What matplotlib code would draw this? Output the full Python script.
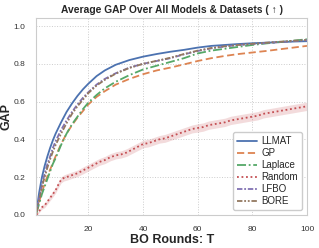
import numpy as np
import matplotlib
matplotlib.use("Agg")
import matplotlib.pyplot as plt
import seaborn as sns

rounds = [1, 2, 3, 4, 5, 6, 7, 8, 10, 12, 14, 16, 18, 20, 23, 26, 30, 35, 40,
          45, 50, 55, 60, 65, 70, 75, 80, 85, 90, 95, 100]

llmat = [0.02, 0.12, 0.20, 0.26, 0.31, 0.355, 0.395, 0.43, 0.49, 0.545, 0.59,
         0.63, 0.665, 0.695, 0.735, 0.765, 0.795, 0.82, 0.838, 0.852, 0.864,
         0.874, 0.886, 0.895, 0.90, 0.905, 0.909, 0.912, 0.915, 0.918, 0.92]
gp = [0.01, 0.07, 0.12, 0.165, 0.205, 0.24, 0.275, 0.31, 0.375, 0.43, 0.475,
      0.515, 0.55, 0.585, 0.625, 0.655, 0.69, 0.72, 0.745, 0.765, 0.78, 0.797,
      0.815, 0.83, 0.842, 0.852, 0.86, 0.868, 0.877, 0.886, 0.895]
laplace = [0.01, 0.06, 0.11, 0.15, 0.19, 0.23, 0.27, 0.30, 0.37, 0.43, 0.48,
           0.52, 0.56, 0.595, 0.635, 0.67, 0.705, 0.74, 0.77, 0.79, 0.81, 0.83,
           0.855, 0.87, 0.88, 0.89, 0.90, 0.908, 0.915, 0.923, 0.93]
lfbo = [0.02, 0.09, 0.16, 0.22, 0.27, 0.31, 0.355, 0.39, 0.45, 0.50, 0.545,
        0.585, 0.62, 0.65, 0.69, 0.72, 0.75, 0.78, 0.80, 0.815, 0.83, 0.85,
        0.868, 0.882, 0.892, 0.90, 0.905, 0.91, 0.915, 0.92, 0.925]
bore = [0.015, 0.08, 0.15, 0.20, 0.25, 0.295, 0.335, 0.37, 0.43, 0.485, 0.535,
        0.575, 0.61, 0.645, 0.685, 0.715, 0.748, 0.778, 0.80, 0.816, 0.832,
        0.852, 0.87, 0.884, 0.893, 0.90, 0.906, 0.912, 0.917, 0.922, 0.927]

# random search is noisier, read on a finer grid
rounds_random = [1, 2, 3, 4, 5, 6, 7, 8, 9, 10, 11, 12, 14, 16, 18, 20, 22, 24,
                 26, 28, 30, 32, 34, 36, 38, 40, 42, 44, 46, 48, 50, 52, 54, 56,
                 58, 60, 62, 64, 66, 68, 70, 72, 74, 76, 78, 80, 82, 84, 86, 88,
                 90, 92, 94, 96, 98, 100]
random_mean = [0.0, 0.02, 0.04, 0.05, 0.07, 0.09, 0.11, 0.13, 0.16, 0.185,
               0.195, 0.20, 0.21, 0.22, 0.235, 0.25, 0.265, 0.28, 0.29, 0.305,
               0.315, 0.32, 0.33, 0.345, 0.36, 0.375, 0.38, 0.39, 0.40, 0.405,
               0.415, 0.425, 0.435, 0.445, 0.455, 0.46, 0.465, 0.475, 0.48,
               0.485, 0.49, 0.50, 0.505, 0.51, 0.515, 0.52, 0.525, 0.535, 0.54,
               0.545, 0.55, 0.555, 0.56, 0.565, 0.57, 0.575]
random_std = [0.005, 0.008, 0.01, 0.012, 0.013, 0.014, 0.015, 0.015, 0.016,
              0.016, 0.016, 0.017, 0.017, 0.017, 0.018, 0.018, 0.018, 0.018,
              0.019, 0.019, 0.019, 0.019, 0.02, 0.02, 0.02, 0.02, 0.02, 0.02,
              0.02, 0.021, 0.021, 0.021, 0.021, 0.021, 0.021, 0.022, 0.022,
              0.022, 0.022, 0.022, 0.022, 0.022, 0.022, 0.022, 0.022, 0.022,
              0.022, 0.022, 0.022, 0.022, 0.022, 0.022, 0.022, 0.022, 0.022,
              0.022]

sns.set_theme(style="whitegrid")
plt.rcParams['font.family'] = ['Liberation Sans', 'DejaVu Sans']

pal = sns.color_palette("deep")

fig = plt.figure(figsize=(3.19, 2.48), dpi=100)
ax = fig.add_axes([0.1144, 0.1339, 0.8480, 0.7952])

lw = 1.3
ax.plot(rounds, llmat, color=pal[0], lw=lw, ls='-', label='LLMAT')
ax.plot(rounds, gp, color=pal[1], lw=lw, ls=(0, (4, 2)), label='GP')
ax.plot(rounds, laplace, color=pal[2], lw=lw, ls=(0, (5, 1.5, 1, 1.5)), label='Laplace')
ax.plot(rounds_random, random_mean, color=pal[3], lw=lw, ls=(0, (1, 1.5)), label='Random')
lo = np.array(random_mean) - np.array(random_std)
hi = np.array(random_mean) + np.array(random_std)
ax.fill_between(rounds_random, lo, hi, color=pal[3], alpha=0.2, lw=0)
ax.plot(rounds, lfbo, color=pal[4], lw=lw, ls=(0, (3, 1, 1, 1)), label='LFBO')
ax.plot(rounds, bore, color=pal[5], lw=lw, ls=(0, (3, 1, 1, 1, 1, 1)), label='BORE')

ax.set_xlim(1, 100)
ax.set_ylim(0, 1.045)
ax.set_xticks([20, 40, 60, 80, 100])
ax.set_yticks([0.0, 0.2, 0.4, 0.6, 0.8, 1.0])
ax.tick_params(labelsize=6, pad=2, colors='#333333')
ax.grid(True, ls=':', lw=0.7, color='#cccccc')
for s in ax.spines.values():
    s.set_color('#cccccc')
    s.set_linewidth(0.8)

ax.set_title("Average GAP Over All Models & Datasets ( \u2191 )", fontsize=7.4,
             fontweight='bold', color='#262626', pad=3)
ax.set_xlabel("BO Rounds: T", fontsize=9, fontweight='bold', labelpad=1)
ax.set_ylabel("GAP", fontsize=9, fontweight='bold', labelpad=0.5)

ax.legend(loc='lower right', fontsize=7, handlelength=2.0, handletextpad=0.5,
          labelspacing=0.2, borderpad=0.4, framealpha=1, edgecolor='#cccccc',
          fancybox=True)

fig.savefig("out.png", dpi=100)
